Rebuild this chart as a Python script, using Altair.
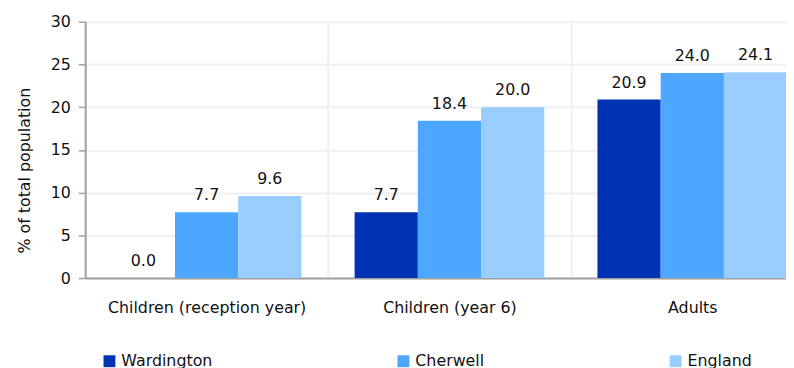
import altair as alt
import pandas as pd

categories = ["Children (reception year)", "Children (year 6)", "Adults"]
series = ["Wardington", "Cherwell", "England"]
wardington = [0.0, 7.7, 20.9]
cherwell = [7.7, 18.4, 24.0]
england = [9.6, 20.0, 24.1]
colors = ["#0032b4", "#4da6ff", "#99ccff"]
y_ticks = [0, 5, 10, 15, 20, 25, 30]

rows = []
for s, vals in zip(series, [wardington, cherwell, england]):
    for c, v in zip(categories, vals):
        rows.append({"category": c, "series": s, "value": v})
df = pd.DataFrame(rows)

FONT = "DejaVu Sans"
TXT = "#111111"
AX = "#a0a0a0"

x = alt.X(
    "category:N",
    sort=categories,
    scale=alt.Scale(range=[0, 736], paddingInner=0, paddingOuter=0),
    axis=alt.Axis(
        title=None, labelAngle=0, ticks=False, tickSize=0, labelPadding=35,
        labelBaseline="alphabetic", tickBand="extent", grid=True,
        gridColor="#efefef", gridWidth=2, domainColor=AX, domainWidth=2,
        labelFontSize=16, labelColor=TXT, labelFont=FONT, labelLimit=0,
    ),
)
xo = alt.XOffset("series:N", sort=series,
                 scale=alt.Scale(paddingInner=0, paddingOuter=0.42))
y = alt.Y(
    "value:Q",
    scale=alt.Scale(domain=[0, 30], nice=False),
    axis=alt.Axis(
        values=y_ticks, title="% of total population", titleX=-56, titleY=150,
        titleBaseline="alphabetic", titleFont=FONT, titleFontSize=16,
        titleFontWeight="normal", titleColor=TXT, grid=True, gridColor="#efefef",
        gridWidth=2, domainColor=AX, domainWidth=2, tickColor=AX, tickSize=7,
        tickWidth=1.5, labelPadding=8, labelFont=FONT, labelFontSize=16,
        labelColor=TXT,
    ),
)

bars = alt.Chart(df).mark_bar().encode(
    x=x, xOffset=xo, y=y,
    color=alt.Color(
        "series:N", sort=series,
        scale=alt.Scale(domain=series, range=colors),
        legend=alt.Legend(
            title=None, orient="none", legendX=16.5, legendY=335,
            direction="horizontal", columnPadding=185, symbolType="square",
            symbolSize=144, symbolStrokeWidth=0, labelOffset=4,
            labelFont=FONT, labelFontSize=16, labelColor=TXT, padding=0,
            symbolOpacity=1,
        ),
    ),
)

labels = alt.Chart(df).mark_text(
    dy=-12, baseline="alphabetic", fontSize=16, font=FONT, color=TXT
).encode(
    x=x, xOffset=xo, y=y, text=alt.Text("value:Q", format=".1f")
)

chart = alt.layer(bars, labels).properties(
    width=708, height=259,
    autosize=alt.AutoSizeParams(type="none"),
    padding={"left": 78, "top": 12, "right": 0, "bottom": 89},
).configure_view(stroke=None)

chart.save("out.html", embed_options={"renderer": "svg", "actions": False})
